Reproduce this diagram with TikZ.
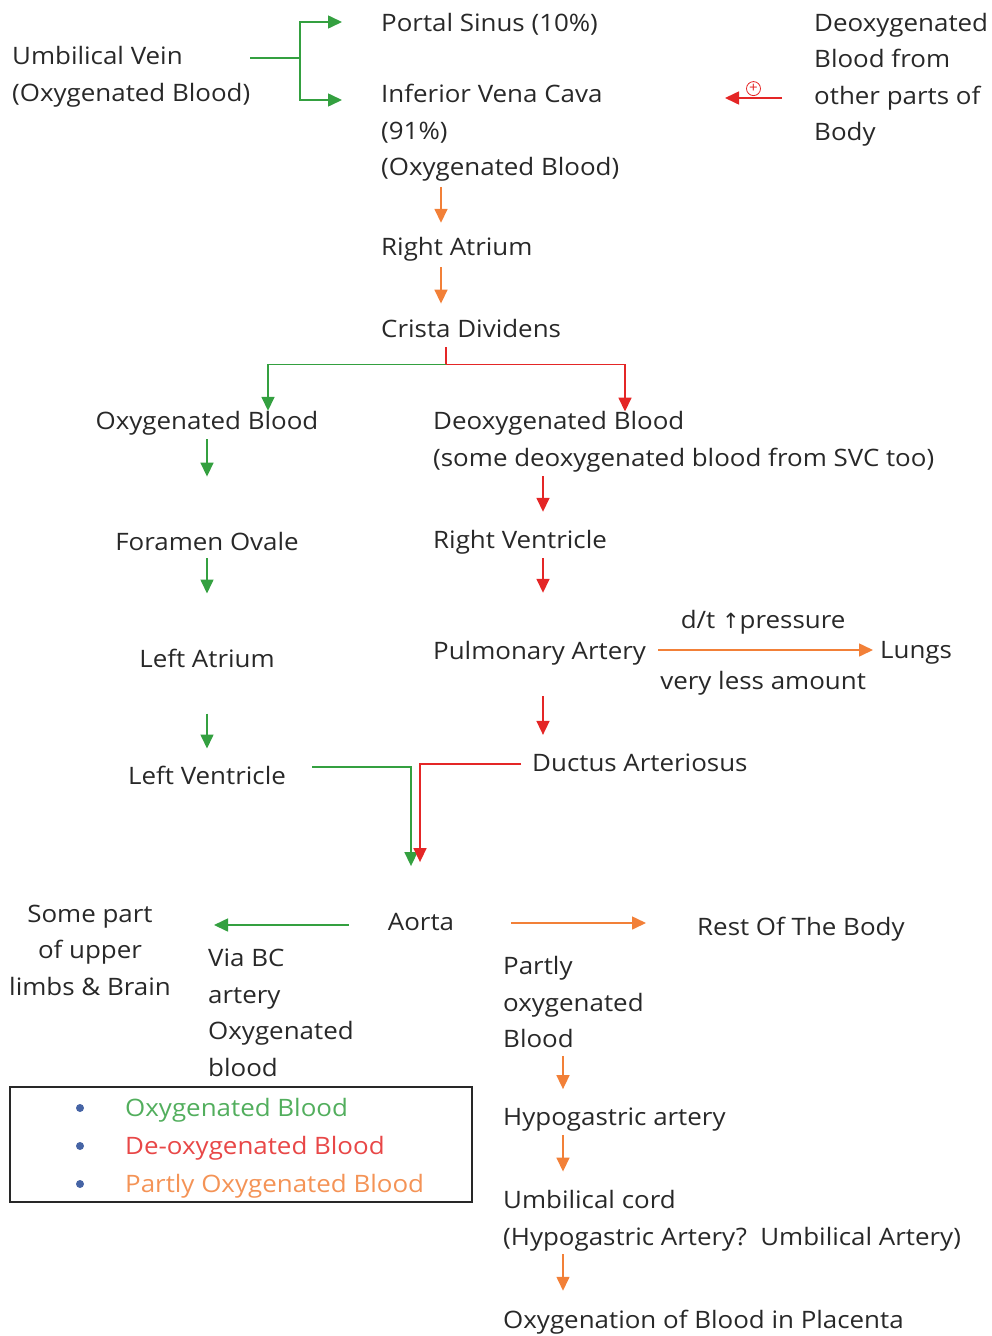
\documentclass[tikz,border=0pt]{standalone}
\usepackage{fontspec}
\setmainfont[FakeStretch=1.08]{Open Sans}
\newfontfamily\symfont{DejaVu Sans}
\usetikzlibrary{arrows.meta}
\definecolor{oxy}{RGB}{52,160,64}
\definecolor{deoxy}{RGB}{228,38,38}
\definecolor{partly}{RGB}{242,128,56}
\definecolor{dot}{RGB}{70,100,165}
\definecolor{ink}{RGB}{40,40,40}

\tikzset{
  txt/.style={anchor=west, inner xsep=0pt, inner ysep=0pt, align=left, text=ink},
  ctxt/.style={txt, anchor=center, align=center},
  flow/.style={line width=1.6pt, -{Triangle[length=14pt,width=13pt]}},
  garr/.style={flow, oxy},
  rarr/.style={flow, deoxy},
  oarr/.style={flow, partly},
}

\begin{document}
\begin{tikzpicture}[x=1pt, y=-1pt, font=\fontsize{24}{36.5}\selectfont]
\useasboundingbox (0,0) rectangle (991,1336);

% top: umbilical vein into the liver
\node[txt] (uv) at (12,77) {Umbilical Vein\\(Oxygenated Blood)};
\node[txt] (ps) at (381,24) {Portal Sinus (10\%)};
\node[txt] (ivc) at (381,133) {Inferior Vena Cava\\(91\%)\\(Oxygenated Blood)};
\node[txt] (deo) at (814,80) {Deoxygenated\\Blood from\\other parts of\\Body};

\draw[oxy, line width=1.6pt] ([yshift=19]uv.east) -- ([yshift=19,xshift=288]uv.west) coordinate (fork);
\draw[garr, shorten >=39pt] (fork) |- ([yshift=2]ps.west);
\draw[garr, shorten >=39pt] (fork) |- ([yshift=33]ivc.west);
\draw[rarr] ([yshift=-18]deo.west) ++(-32,0) -- ++(-57,0) coordinate (inflow)
  node[midway, above=2pt, circle, draw=deoxy, line width=0.8pt, inner sep=0pt,
       minimum size=14pt, text=deoxy, font=\fontsize{14}{14}\selectfont] (plus) {+};

% right atrium and crista dividens
\node[txt] (ra) at (381,249) {Right Atrium};
\node[txt] (cd) at (381,328) {Crista Dividens};
\draw[oarr, shorten <=5pt, shorten >=14pt] ([xshift=60]ivc.south west) -- ([xshift=60]ra.north west);
\draw[oarr, shorten <=6pt, shorten >=15pt] ([xshift=60]ra.south west) -- ([xshift=60]cd.north west);

% left column: oxygenated blood
\node[ctxt] (ob) at (207,423) {Oxygenated Blood};
\node[ctxt] (fo) at (207,541) {Foramen Ovale};
\node[ctxt] (la) at (207,658) {Left Atrium};
\node[ctxt] (lv) at (207,775) {Left Ventricle};

% right column: deoxygenated blood
\node[txt] (db) at (433,442) {Deoxygenated Blood\\(some deoxygenated blood from SVC too)};
\node[txt] (rv) at (433,542) {Right Ventricle};
\node[txt] (pa) at (433,653) {Pulmonary Artery};
\node[txt] (lungs) at (880,653) {Lungs};
\node[txt] (da) at (532,763) {Ductus Arteriosus};

% split at the crista dividens
\draw[deoxy, line width=1.6pt] ([xshift=65]cd.south west) ++(0,10) -- ++(0,17) coordinate (split);
\draw[garr] (split) -| ([xshift=61]ob.north);
\draw[rarr] (split) -| ([xshift=192]db.north west);

\draw[garr, shorten <=4pt, shorten >=55pt] (ob.south) -- (fo.north);
\draw[garr, shorten <=8pt, shorten >=55pt] (fo.south) -- (la.north);
\draw[garr, shorten <=46pt, shorten >=17pt] (la.south) -- (lv.north);

\draw[rarr, shorten <=4pt, shorten >=18pt] ([xshift=110]db.south west) -- ([xshift=110]rv.north west);
\draw[rarr, shorten <=4pt, shorten >=48pt] ([xshift=110]rv.south west) -- ([xshift=110]pa.north west);
\draw[rarr, shorten <=31pt, shorten >=19pt] ([xshift=110]pa.south west) -- ([xshift=11]da.north west);

\draw[oarr, shorten <=12pt, shorten >=7pt] ([yshift=3]pa.east) -- ([yshift=3]lungs.west)
  node[midway, above=12pt, text=ink] {d/t {\symfont\fontsize{21}{21}\selectfont ↑}pressure}
  node[midway, below=17pt, text=ink] {very less amount};

% aorta
\node[ctxt] (aorta) at (421,922) {Aorta};
\draw[garr, shorten <=26pt, shorten >=47pt] ([yshift=8]lv.east) -| ([xshift=-10]aorta.north);
\draw[rarr, shorten <=11pt, shorten >=51pt] ([yshift=-1]da.west) -| ([xshift=-1]aorta.north);

\node[ctxt] (sp) at (90,950) {Some part\\of upper\\limbs \& Brain};
\node[txt] (via) at (208,1013) {Via BC\\artery\\Oxygenated\\blood};
\node[txt] (rest) at (697,929) {Rest Of The Body};
\node[txt] (partly) at (503,1002) {Partly\\oxygenated\\Blood};

\draw[garr, shorten <=39pt, shorten >=43pt] ([yshift=-3]aorta.west) -- ([yshift=-3]aorta.west -| sp.east);
\draw[oarr, shorten <=57pt, shorten >=51pt] ([yshift=-1]aorta.east) -- ([yshift=-1]aorta.east -| rest.west);

% down to the placenta
\node[txt] (hyp) at (503,1120) {Hypogastric artery};
\node[txt] (uc) at (503,1221) {Umbilical cord\\(Hypogastric Artery?~~Umbilical Artery)};
\node[txt] (plac) at (503,1322) {Oxygenation of Blood in Placenta};

\draw[oarr, shorten <=8pt, shorten >=19pt] ([xshift=60]partly.south west) -- ([xshift=60]hyp.north west);
\draw[oarr, shorten <=3pt, shorten >=19pt] ([xshift=60]hyp.south west) -- ([xshift=60]uc.north west);
\draw[oarr, shorten <=3pt, shorten >=19pt] ([xshift=60]uc.south west) -- ([xshift=60]plac.north west);

% legend
\draw[line width=2.5pt, ink] (10,1087) rectangle (472,1202);
\foreach \c/\t [count=\i] in {oxy/Oxygenated Blood, deoxy/De-oxygenated Blood, partly/Partly Oxygenated Blood}{
  \fill[dot] (80,1070+38*\i) circle (4);
  \node[txt, text=\c!85!white] (key\i) at (125,1072+38*\i) {\t};
}
\end{tikzpicture}
\end{document}
